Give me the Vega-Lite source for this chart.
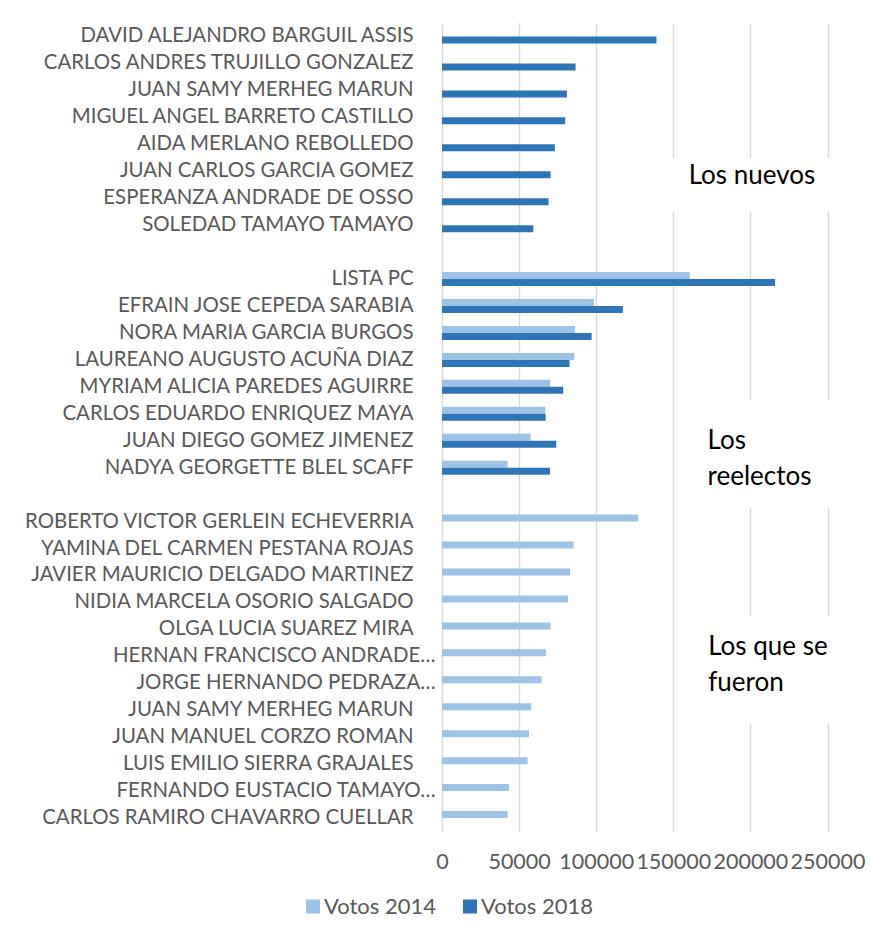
{
  "$schema": "https://vega.github.io/schema/vega-lite/v6.json",
  "width": 385.5,
  "height": 808.5,
  "autosize": {"type": "none"},
  "padding": {"left": 442, "top": 23, "right": 44.5, "bottom": 109.5},
  "background": "white",
  "config": {
    "view": {"stroke": null},
    "font": "Lato",
    "axis": {"labelFont": "Lato", "labelColor": "#595959"},
    "legend": {"labelFont": "Lato"}
  },
  "datasets": {
    "votos": [
      {"candidato": "DAVID ALEJANDRO BARGUIL ASSIS", "serie": "Votos 2018", "votos": 139100},
      {"candidato": "CARLOS ANDRES TRUJILLO GONZALEZ", "serie": "Votos 2018", "votos": 86600},
      {"candidato": "JUAN SAMY MERHEG MARUN", "serie": "Votos 2018", "votos": 81000},
      {"candidato": "MIGUEL ANGEL BARRETO CASTILLO", "serie": "Votos 2018", "votos": 79900},
      {"candidato": "AIDA MERLANO REBOLLEDO", "serie": "Votos 2018", "votos": 73200},
      {"candidato": "JUAN CARLOS GARCIA GOMEZ", "serie": "Votos 2018", "votos": 70400},
      {"candidato": "ESPERANZA ANDRADE DE OSSO", "serie": "Votos 2018", "votos": 69100},
      {"candidato": "SOLEDAD TAMAYO TAMAYO", "serie": "Votos 2018", "votos": 59200},
      {"candidato": "LISTA PC", "serie": "Votos 2014", "votos": 160700},
      {"candidato": "LISTA PC", "serie": "Votos 2018", "votos": 216000},
      {"candidato": "EFRAIN JOSE CEPEDA SARABIA", "serie": "Votos 2014", "votos": 98500},
      {"candidato": "EFRAIN JOSE CEPEDA SARABIA", "serie": "Votos 2018", "votos": 117300},
      {"candidato": "NORA MARIA GARCIA BURGOS", "serie": "Votos 2014", "votos": 86200},
      {"candidato": "NORA MARIA GARCIA BURGOS", "serie": "Votos 2018", "votos": 97000},
      {"candidato": "LAUREANO AUGUSTO ACUÑA DIAZ", "serie": "Votos 2014", "votos": 85800},
      {"candidato": "LAUREANO AUGUSTO ACUÑA DIAZ", "serie": "Votos 2018", "votos": 82700},
      {"candidato": "MYRIAM ALICIA PAREDES AGUIRRE", "serie": "Votos 2014", "votos": 70000},
      {"candidato": "MYRIAM ALICIA PAREDES AGUIRRE", "serie": "Votos 2018", "votos": 78600},
      {"candidato": "CARLOS EDUARDO ENRIQUEZ MAYA", "serie": "Votos 2014", "votos": 67000},
      {"candidato": "CARLOS EDUARDO ENRIQUEZ MAYA", "serie": "Votos 2018", "votos": 67200},
      {"candidato": "JUAN DIEGO GOMEZ JIMENEZ", "serie": "Votos 2014", "votos": 57500},
      {"candidato": "JUAN DIEGO GOMEZ JIMENEZ", "serie": "Votos 2018", "votos": 74100},
      {"candidato": "NADYA GEORGETTE BLEL SCAFF", "serie": "Votos 2014", "votos": 42600},
      {"candidato": "NADYA GEORGETTE BLEL SCAFF", "serie": "Votos 2018", "votos": 70000},
      {"candidato": "ROBERTO VICTOR GERLEIN ECHEVERRIA", "serie": "Votos 2014", "votos": 127200},
      {"candidato": "YAMINA DEL CARMEN PESTANA ROJAS", "serie": "Votos 2014", "votos": 85300},
      {"candidato": "JAVIER MAURICIO DELGADO MARTINEZ", "serie": "Votos 2014", "votos": 83000},
      {"candidato": "NIDIA MARCELA OSORIO SALGADO", "serie": "Votos 2014", "votos": 81700},
      {"candidato": "OLGA LUCIA SUAREZ MIRA", "serie": "Votos 2014", "votos": 70400},
      {"candidato": "HERNAN FRANCISCO ANDRADE…", "serie": "Votos 2014", "votos": 67400},
      {"candidato": "JORGE HERNANDO PEDRAZA…", "serie": "Votos 2014", "votos": 64600},
      {"candidato": "JUAN SAMY MERHEG MARUN ", "serie": "Votos 2014", "votos": 57900},
      {"candidato": "JUAN MANUEL CORZO ROMAN", "serie": "Votos 2014", "votos": 56400},
      {"candidato": "LUIS EMILIO SIERRA GRAJALES", "serie": "Votos 2014", "votos": 55500},
      {"candidato": "FERNANDO EUSTACIO TAMAYO…", "serie": "Votos 2014", "votos": 43400},
      {"candidato": "CARLOS RAMIRO CHAVARRO CUELLAR", "serie": "Votos 2014", "votos": 42600}
    ],
    "cajas": [
      {"candidato": "JUAN CARLOS GARCIA GOMEZ", "desde": 140000, "hasta": 270000},
      {"candidato": "ESPERANZA ANDRADE DE OSSO", "desde": 140000, "hasta": 270000},
      {"candidato": "CARLOS EDUARDO ENRIQUEZ MAYA", "desde": 170000, "hasta": 270000},
      {"candidato": "JUAN DIEGO GOMEZ JIMENEZ", "desde": 170000, "hasta": 270000},
      {"candidato": "NADYA GEORGETTE BLEL SCAFF", "desde": 170000, "hasta": 270000},
      {"candidato": "_gap2", "desde": 170000, "hasta": 270000},
      {"candidato": "OLGA LUCIA SUAREZ MIRA", "desde": 170000, "hasta": 270000},
      {"candidato": "HERNAN FRANCISCO ANDRADE…", "desde": 170000, "hasta": 270000},
      {"candidato": "JORGE HERNANDO PEDRAZA…", "desde": 170000, "hasta": 270000},
      {"candidato": "JUAN SAMY MERHEG MARUN ", "desde": 170000, "hasta": 270000}
    ]
  },
  "layer": [
    {
      "data": {"name": "votos"},
      "mark": {"type": "bar"},
      "encoding": {
        "y": {
          "field": "candidato",
          "type": "nominal",
          "scale": {
            "domain": [
              "DAVID ALEJANDRO BARGUIL ASSIS", "CARLOS ANDRES TRUJILLO GONZALEZ", "JUAN SAMY MERHEG MARUN", "MIGUEL ANGEL BARRETO CASTILLO", "AIDA MERLANO REBOLLEDO", "JUAN CARLOS GARCIA GOMEZ", "ESPERANZA ANDRADE DE OSSO", "SOLEDAD TAMAYO TAMAYO",
              "_gap1",
              "LISTA PC", "EFRAIN JOSE CEPEDA SARABIA", "NORA MARIA GARCIA BURGOS", "LAUREANO AUGUSTO ACUÑA DIAZ", "MYRIAM ALICIA PAREDES AGUIRRE", "CARLOS EDUARDO ENRIQUEZ MAYA", "JUAN DIEGO GOMEZ JIMENEZ", "NADYA GEORGETTE BLEL SCAFF",
              "_gap2",
              "ROBERTO VICTOR GERLEIN ECHEVERRIA", "YAMINA DEL CARMEN PESTANA ROJAS", "JAVIER MAURICIO DELGADO MARTINEZ", "NIDIA MARCELA OSORIO SALGADO", "OLGA LUCIA SUAREZ MIRA", "HERNAN FRANCISCO ANDRADE…", "JORGE HERNANDO PEDRAZA…", "JUAN SAMY MERHEG MARUN ", "JUAN MANUEL CORZO ROMAN", "LUIS EMILIO SIERRA GRAJALES", "FERNANDO EUSTACIO TAMAYO…", "CARLOS RAMIRO CHAVARRO CUELLAR"
            ],
            "paddingInner": 0,
            "paddingOuter": 0
          },
          "axis": {
            "title": null,
            "domain": false,
            "ticks": false,
            "grid": false,
            "labelFontSize": 20.4,
            "labelLimit": 600,
            "labelPadding": {"condition": {"test": "indexof(datum.value, '…') >= 0", "value": 7}, "value": 29},
            "labelExpr": "indexof(datum.value, '_gap') == 0 ? '' : datum.value"
          }
        },
        "x": {
          "field": "votos",
          "type": "quantitative",
          "scale": {"domain": [0, 250000], "nice": false},
          "axis": {
            "title": null,
            "domain": false,
            "ticks": false,
            "grid": true,
            "gridColor": "#d9d9d9",
            "gridWidth": 1.4,
            "values": [0, 50000, 100000, 150000, 200000, 250000],
            "format": "d",
            "labelFontSize": 21.5,
            "labelPadding": 20,
            "labelFlush": false,
            "labelOverlap": false
          }
        },
        "yOffset": {
          "field": "serie",
          "type": "nominal",
          "scale": {"domain": ["Votos 2014", "Votos 2018"], "paddingInner": 0, "paddingOuter": 0.925}
        },
        "color": {
          "field": "serie",
          "type": "nominal",
          "scale": {"domain": ["Votos 2014", "Votos 2018"], "range": ["#9DC3E6", "#2E75B6"]},
          "legend": {
            "orient": "none",
            "legendX": -140,
            "legendY": 872.5,
            "direction": "horizontal",
            "title": null,
            "symbolType": "square",
            "symbolSize": 196,
            "symbolStrokeWidth": 0,
            "labelFontSize": 22,
            "labelColor": "#595959",
            "columnPadding": 22,
            "labelOffset": 0,
            "padding": 0
          }
        }
      }
    },
    {
      "data": {"name": "cajas"},
      "mark": {"type": "bar", "color": "white"},
      "encoding": {
        "y": {"field": "candidato", "type": "nominal"},
        "x": {"field": "desde", "type": "quantitative"},
        "x2": {"field": "hasta"}
      }
    },
    {
      "data": {"values": [{"candidato": "JUAN CARLOS GARCIA GOMEZ", "x": 160000, "texto": "Los nuevos"}]},
      "mark": {"type": "text", "align": "left", "baseline": "alphabetic", "dy": 13, "fontSize": 26, "color": "#000000", "font": "Lato"},
      "encoding": {
        "y": {"field": "candidato", "type": "nominal"},
        "x": {"field": "x", "type": "quantitative"},
        "text": {"field": "texto"}
      }
    },
    {
      "data": {"values": [{"candidato": "JUAN DIEGO GOMEZ JIMENEZ", "x": 172200, "texto": ["Los", "reelectos"]}]},
      "mark": {"type": "text", "align": "left", "baseline": "alphabetic", "dy": 8, "fontSize": 26, "lineHeight": 36, "color": "#000000", "font": "Lato"},
      "encoding": {
        "y": {"field": "candidato", "type": "nominal"},
        "x": {"field": "x", "type": "quantitative"},
        "text": {"field": "texto"}
      }
    },
    {
      "data": {"values": [{"candidato": "HERNAN FRANCISCO ANDRADE…", "x": 172600, "texto": ["Los que se", "fueron"]}]},
      "mark": {"type": "text", "align": "left", "baseline": "alphabetic", "dy": -1, "fontSize": 26, "lineHeight": 36, "color": "#000000", "font": "Lato"},
      "encoding": {
        "y": {"field": "candidato", "type": "nominal"},
        "x": {"field": "x", "type": "quantitative"},
        "text": {"field": "texto"}
      }
    }
  ]
}
